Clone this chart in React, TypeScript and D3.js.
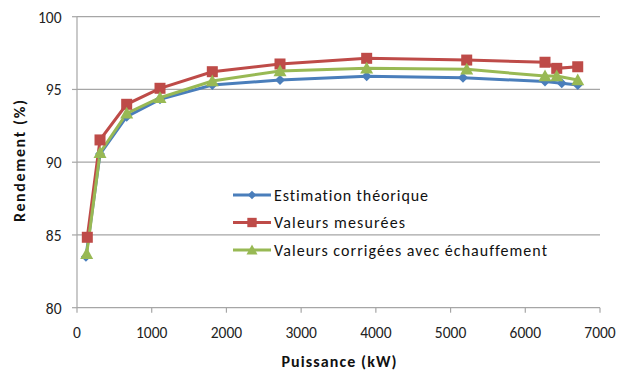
import React from "react";
import * as d3 from "d3";

const seriesNames = ["Estimation théorique", "Valeurs mesurées", "Valeurs corrigées avec échauffement"];
const colors = ["#4a7ebb", "#be4b48", "#98b954"];

const xBlue = [120, 308, 665, 1111, 1811, 2717, 3877, 5166, 6264, 6488, 6702];
const yBlue = [83.5, 90.56, 93.13, 94.32, 95.3, 95.65, 95.9, 95.8, 95.55, 95.42, 95.3];

const xRed = [138, 308, 665, 1111, 1811, 2717, 3877, 5216, 6264, 6421, 6702];
const yRed = [84.84, 91.53, 93.98, 95.08, 96.22, 96.75, 97.14, 97.02, 96.87, 96.45, 96.56];

const xGreen = [130, 308, 665, 1111, 1811, 2717, 3877, 5216, 6264, 6421, 6702];
const yGreen = [83.7, 90.65, 93.36, 94.43, 95.58, 96.27, 96.45, 96.38, 95.92, 95.92, 95.65];

const xTicks = [0, 1000, 2000, 3000, 4000, 5000, 6000, 7000];
const yTicks = [80, 85, 90, 95, 100];

const xTitle = "Puissance (kW)";
const yTitle = "Rendement (%)";

const W = 618, H = 371;
const L = 77, R = 600, T = 16.7, B = 307.7;

function marker(i: number, x: number, y: number, key: string, k = 1) {
  const c = colors[i];
  if (i === 0) {
    const s = 5 * k;
    return <path key={key} d={`M${x},${y - s}L${x + s},${y}L${x},${y + s}L${x - s},${y}Z`} fill={c} />;
  }
  if (i === 1) {
    const s = 5.5 * k;
    return <rect key={key} x={x - s} y={y - s} width={2 * s} height={2 * s} fill={c} />;
  }
  const s = 6.5 * k;
  return <path key={key} d={`M${x},${y - s}L${x + s},${y + s * 0.8}L${x - s},${y + s * 0.8}Z`} fill={c} />;
}

export default function App() {
  const x = d3.scaleLinear().domain([0, 7000]).range([L, R]);
  const y = d3.scaleLinear().domain([80, 100]).range([B, T]);
  const data = [
    xBlue.map((v, i) => [v, yBlue[i]]),
    xRed.map((v, i) => [v, yRed[i]]),
    xGreen.map((v, i) => [v, yGreen[i]]),
  ] as [number, number][][];
  const line = d3.line<[number, number]>().x(d => x(d[0])).y(d => y(d[1]));
  const font = "Carlito, Calibri, 'Open Sans', sans-serif";
  const legendY = [195, 222.5, 250];
  const legendW = [154, 131, 273];
  return (
    <svg width={W} height={H} style={{ position: "absolute", left: 0, top: 0, background: "#fff", fontVariantLigatures: "none" }} fontFamily={font}>
      {yTicks.map(t => (
        <g key={"y" + t}>
          {t !== 80 && <line x1={L} x2={R} y1={y(t)} y2={y(t)} stroke="#a6a6a6" strokeWidth={1.2} />}
          <line x1={L - 5} x2={L} y1={y(t)} y2={y(t)} stroke="#a6a6a6" strokeWidth={1.2} />
          <text x={L - 15.5} y={y(t)} dy="0.38em" textAnchor="end" fontSize={15.5} fill="#222">{t}</text>
        </g>
      ))}
      <line x1={L} x2={L} y1={T} y2={B} stroke="#a6a6a6" strokeWidth={1.2} />
      <line x1={L} x2={R} y1={B} y2={B} stroke="#a6a6a6" strokeWidth={1.2} />
      {xTicks.map(t => (
        <g key={"x" + t}>
          <line x1={x(t)} x2={x(t)} y1={B} y2={B + 5} stroke="#a6a6a6" strokeWidth={1.2} />
          <text x={x(t)} y={B + 30.5} textAnchor="middle" fontSize={15.5} fill="#222">{t}</text>
        </g>
      ))}
      <text x={339} y={367} textAnchor="middle" fontSize={16} fontWeight="bold" fill="#111" textLength={115} lengthAdjust="spacing">{xTitle}</text>
      <text transform={`translate(25,161) rotate(-90)`} textAnchor="middle" fontSize={16} fontWeight="bold" fill="#111" textLength={122} lengthAdjust="spacing">{yTitle}</text>
      {data.map((d, i) => (
        <path key={"l" + i} d={line(d) || ""} fill="none" stroke={colors[i]} strokeWidth={3} />
      ))}
      {data.map((d, i) => d.map((p, j) => marker(i, x(p[0]), y(p[1]), `m${i}-${j}`)))}
      {seriesNames.map((n, i) => (
        <g key={"lg" + i}>
          <line x1={233} x2={271} y1={legendY[i]} y2={legendY[i]} stroke={colors[i]} strokeWidth={3} />
          {marker(i, 252, legendY[i], "lm" + i, 0.85)}
          <text x={274} y={legendY[i]} dy="0.36em" fontSize={16} fill="#111" textLength={legendW[i]} lengthAdjust="spacing">{n}</text>
        </g>
      ))}
    </svg>
  );
}
